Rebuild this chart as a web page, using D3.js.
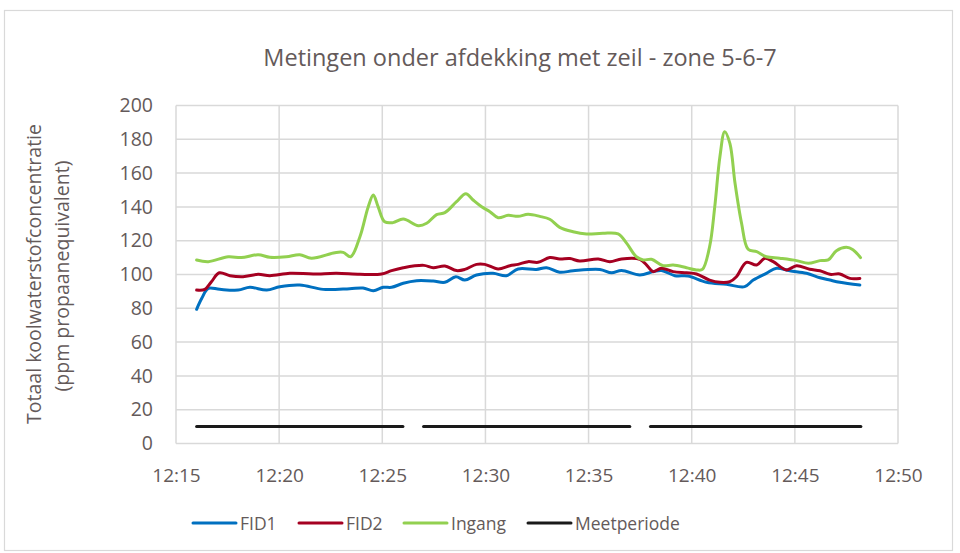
<!DOCTYPE html>
<html>
<head>
<meta charset="utf-8">
<script src="https://cdn.jsdelivr.net/npm/d3@7"></script>
<style>
  body { margin: 0; background: #fff; }
  text { font-family: "Open Sans", sans-serif; fill: #645a5a; }
</style>
</head>
<body>
<div id="chart"></div>
<script>
// minutes after 12:00
var fid1Times = [16.0, 16.25, 16.57, 17.13, 18.02, 18.59, 19.4, 20.04, 21.01, 22.14, 23.43, 24.08, 24.57, 25.05, 25.45, 26.02, 26.67, 27.47, 28.04, 28.57, 29.01, 29.57, 30.38, 31.03, 31.59, 32.48, 32.97, 33.61, 34.26, 35.55, 36.12, 36.6, 37.49, 38.14, 38.54, 39.19, 39.83, 40.72, 41.69, 42.58, 42.99, 43.63, 44.12, 44.76, 45.57, 46.22, 46.7, 47.19, 48.16];
var fid1Values = [79.4, 85.9, 91.8, 91.2, 90.8, 92.4, 90.8, 92.8, 93.8, 91.2, 91.6, 92, 90.4, 92.4, 92.4, 94.8, 96.3, 96.1, 95.4, 98.7, 96.7, 99.7, 100.7, 99.3, 103.3, 103, 104, 101.3, 102.2, 103, 101, 102.4, 99.7, 101.7, 102.4, 99.3, 99.1, 95.4, 94.2, 92.8, 96.7, 100.7, 103.7, 102.2, 100.7, 98.1, 96.7, 95.4, 93.8];

var fid2Times = [16.0, 16.41, 16.73, 17.1, 17.62, 18.26, 18.99, 19.56, 20.53, 21.66, 22.79, 23.92, 24.97, 25.45, 26.02, 27.02, 27.48, 28.04, 28.6, 29.0, 29.57, 29.98, 30.62, 31.19, 31.59, 32.08, 32.56, 33.13, 33.61, 34.1, 34.58, 35.47, 36.04, 36.6, 37.49, 37.82, 38.14, 38.54, 39.1, 39.75, 40.24, 40.88, 41.37, 41.85, 42.18, 42.66, 43.15, 43.55, 43.95, 44.6, 45.09, 45.73, 46.22, 46.7, 47.19, 47.67, 48.16];
var fid2Values = [90.8, 91.2, 95.7, 101, 99.3, 98.7, 100.1, 99.3, 100.7, 100.3, 100.7, 100.1, 100.3, 102.3, 104, 105.4, 104, 105, 102.3, 103, 106, 106, 103.3, 105.2, 106, 107.6, 107.2, 110, 109.2, 109.4, 108, 109.2, 107.6, 109.2, 109, 105.6, 101.7, 103.7, 101.7, 101, 100.3, 96.7, 95.4, 95.8, 98.7, 107.2, 105.6, 109.6, 107.6, 102.7, 105.2, 103.1, 102.2, 100.1, 100.3, 97.7, 97.7];

var ingangTimes = [16.0, 16.57, 17.54, 18.18, 18.99, 19.56, 20.36, 21.01, 21.58, 22.71, 23.11, 23.47, 23.92, 24.33, 24.57, 24.81, 25.13, 25.53, 26.02, 26.75, 27.15, 27.64, 28.04, 28.6, 29.06, 29.41, 29.82, 30.22, 30.62, 31.11, 31.59, 32.08, 32.64, 33.13, 33.61, 34.26, 34.9, 35.71, 36.44, 36.85, 37.33, 37.65, 38.06, 38.62, 39.1, 39.75, 40.24, 40.53, 40.88, 41.12, 41.37, 41.61, 41.85, 42.1, 42.42, 42.74, 43.15, 43.63, 44.28, 45.09, 45.65, 46.22, 46.62, 47.03, 47.51, 47.83, 48.19];
var ingangValues = [108.6, 107.6, 110.5, 110, 111.7, 110.2, 110.5, 111.7, 109.6, 112.9, 113.1, 110.5, 122.4, 140, 147, 140, 131.2, 130.7, 132.8, 128.9, 130.3, 135.4, 136.6, 143.1, 147.8, 144.1, 140.1, 137.2, 133.6, 135, 134.4, 135.6, 134.4, 132.7, 127.9, 125.3, 124, 124.4, 124, 118.4, 110.5, 108.6, 109, 105.2, 105.6, 104, 102.7, 103, 116.4, 140, 169.7, 184.5, 177.6, 154, 130.3, 114.9, 113.5, 110.5, 109.6, 108.2, 106.6, 108.2, 108.6, 114.1, 116.1, 114.7, 110];

var meetStart = [16, 27, 38];
var meetEnd = [26, 37, 48.2];
var meetValue = 10;

var yTicks = [0, 20, 40, 60, 80, 100, 120, 140, 160, 180, 200];
var xTicks = [15, 20, 25, 30, 35, 40, 45, 50];

var seriesNames = ["FID1", "FID2", "Ingang", "Meetperiode"];
var seriesColors = ["#0070C0", "#A50021", "#92D050", "#1a1a1a"];

var width = 960, height = 553;
var margin = { top: 105.5, left: 176, right: 62, bottom: 109.5 };
var innerW = width - margin.left - margin.right,
    innerH = height - margin.top - margin.bottom;

var svg = d3.select("#chart").append("svg")
    .attr("width", width)
    .attr("height", height);

// outer chart border
svg.append("rect")
  .attr("x", 4.5).attr("y", 10.5)
  .attr("width", 948).attr("height", 540)
  .attr("fill", "none")
  .attr("stroke", "#d9d9d9")
  .attr("stroke-width", 1.2);

var g = svg.append("g")
    .attr("transform", "translate(" + margin.left + "," + margin.top + ")");

function toDate(m) { return new Date(2020, 0, 1, 12, 0, m * 60); }

var x = d3.scaleTime()
    .domain([toDate(15), toDate(50)])
    .range([0, innerW]);

var y = d3.scaleLinear()
    .domain([0, 200])
    .range([innerH, 0]);

// gridlines
g.append("g")
  .selectAll("line.hgrid")
  .data(yTicks)
  .enter().append("line")
  .attr("x1", 0).attr("x2", innerW)
  .attr("y1", function(d) { return y(d); })
  .attr("y2", function(d) { return y(d); })
  .attr("stroke", "#d9d9d9")
  .attr("stroke-width", 1.5);

g.append("g")
  .selectAll("line.vgrid")
  .data(xTicks)
  .enter().append("line")
  .attr("x1", function(d) { return x(toDate(d)); })
  .attr("x2", function(d) { return x(toDate(d)); })
  .attr("y1", 0).attr("y2", innerH)
  .attr("stroke", "#d9d9d9")
  .attr("stroke-width", 1.5);

// axes
var xAxis = d3.axisBottom(x)
  .tickValues(xTicks.map(toDate))
  .tickFormat(d3.timeFormat("%H:%M"))
  .tickSize(0)
  .tickPadding(25);
var xg = g.append("g")
  .attr("transform", "translate(0," + innerH + ")")
  .call(xAxis);
xg.select(".domain").remove();
xg.selectAll("text").style("font-size", "19px").attr("fill", "#645a5a");

var yAxis = d3.axisLeft(y)
  .tickValues(yTicks)
  .tickSize(0)
  .tickPadding(23);
var yg = g.append("g").call(yAxis);
yg.select(".domain").remove();
yg.selectAll("text").style("font-size", "19.5px").attr("fill", "#645a5a");

// data lines
var line = d3.line()
  .x(function(d) { return x(toDate(d[0])); })
  .y(function(d) { return y(d[1]); })
  .curve(d3.curveCatmullRom.alpha(0.5));

var series = [
  d3.zip(fid1Times, fid1Values),
  d3.zip(fid2Times, fid2Values),
  d3.zip(ingangTimes, ingangValues)
];

series.forEach(function(s, i) {
  g.append("path")
    .datum(s)
    .attr("fill", "none")
    .attr("stroke", seriesColors[i])
    .attr("stroke-width", 3)
    .attr("stroke-linejoin", "round")
    .attr("stroke-linecap", "round")
    .attr("d", line);
});

// meetperiode segments
g.selectAll("line.meet")
  .data(d3.zip(meetStart, meetEnd))
  .enter().append("line")
  .attr("x1", function(d) { return x(toDate(d[0])); })
  .attr("x2", function(d) { return x(toDate(d[1])); })
  .attr("y1", y(meetValue)).attr("y2", y(meetValue))
  .attr("stroke", seriesColors[3])
  .attr("stroke-width", 3)
  .attr("stroke-linecap", "round");

// title
svg.append("text")
  .attr("x", 520).attr("y", 66)
  .attr("text-anchor", "middle")
  .style("font-size", "23.5px")
  .text("Metingen onder afdekking met zeil - zone 5-6-7");

// y axis title
svg.append("text")
  .attr("transform", "translate(41,274) rotate(-90)")
  .attr("text-anchor", "middle")
  .style("font-size", "19.5px")
  .text("Totaal koolwaterstofconcentratie");
svg.append("text")
  .attr("transform", "translate(69,276) rotate(-90)")
  .attr("text-anchor", "middle")
  .style("font-size", "19.5px")
  .text("(ppm propaanequivalent)");

// legend
var legendX = [193, 299, 404, 528];
var legend = svg.append("g").attr("transform", "translate(0,523)");
seriesNames.forEach(function(name, i) {
  legend.append("line")
    .attr("x1", legendX[i]).attr("x2", legendX[i] + 43)
    .attr("y1", 0).attr("y2", 0)
    .attr("stroke", seriesColors[i])
    .attr("stroke-width", 3)
    .attr("stroke-linecap", "round");
  legend.append("text")
    .attr("x", legendX[i] + 47)
    .attr("y", 6.5)
    .style("font-size", "17.5px")
    .text(name);
});
</script>
</body>
</html>
